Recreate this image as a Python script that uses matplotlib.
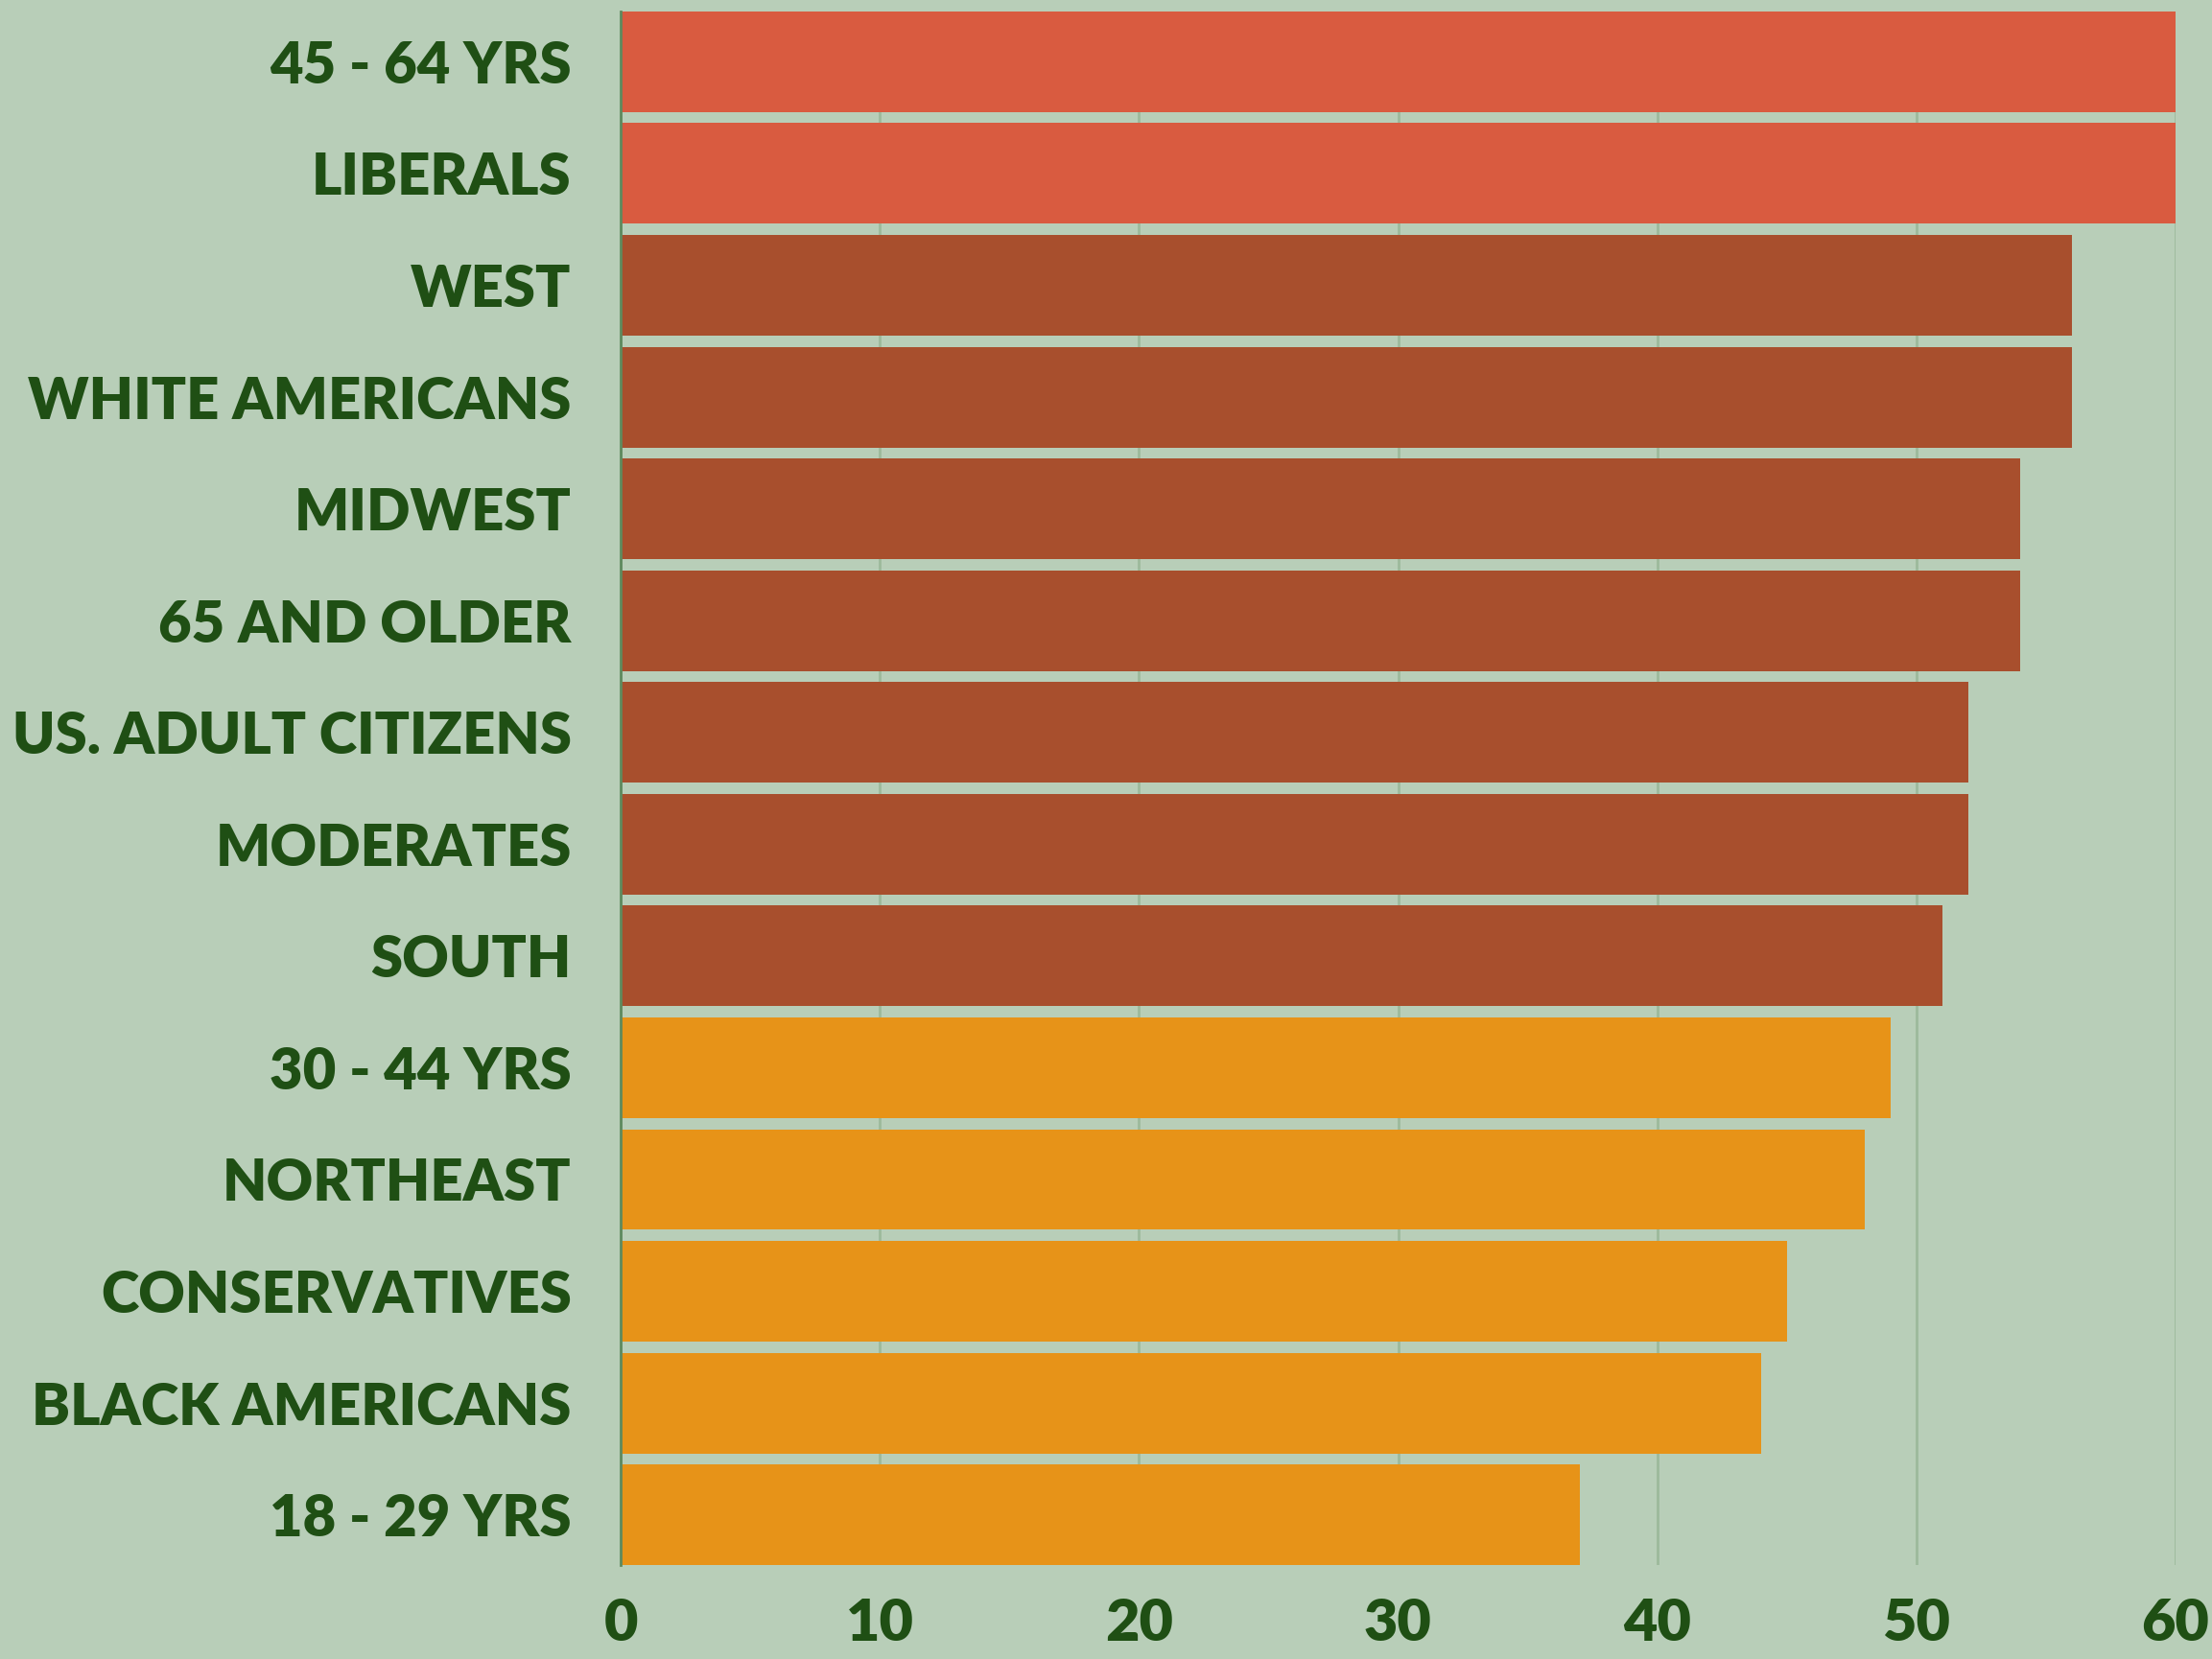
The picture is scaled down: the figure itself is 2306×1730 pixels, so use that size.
import matplotlib
matplotlib.use("Agg")
import matplotlib.pyplot as plt
import numpy as np

# dữ liệu
groups = ["45 - 64 YRS", "LIBERALS", "WEST", "WHITE AMERICANS", "MIDWEST",
          "65 AND OLDER", "US. ADULT CITIZENS", "MODERATES", "SOUTH",
          "30 - 44 YRS", "NORTHEAST", "CONSERVATIVES", "BLACK AMERICANS",
          "18 - 29 YRS"]
values = [60, 60, 56, 56, 54, 54, 52, 52, 51, 49, 48, 45, 44, 37]
tiers = ["top", "top", "mid", "mid", "mid", "mid", "mid", "mid", "mid",
         "low", "low", "low", "low", "low"]
x_ticks = [0, 10, 20, 30, 40, 50, 60]

tier_colors = {"top": "#D95B40", "mid": "#A84F2D", "low": "#E79318"}
bg = "#B8CEB8"
text_col = "#1F4F14"

plt.rcParams['font.family'] = ['Lato', 'DejaVu Sans']

fig = plt.figure(figsize=(23.06, 17.30), dpi=100, facecolor=bg)
ax = fig.add_axes([0.2806, 0.0566, 0.9835 - 0.2806, 0.9931 - 0.0566])
ax.set_facecolor(bg)

y = np.arange(len(groups))
colors = [tier_colors[t] for t in tiers]
ax.barh(y, values, height=0.9, color=colors, zorder=3)

ax.set_ylim(len(groups) - 1 + 0.45, -0.45)
ax.set_xlim(0, 60)
ax.set_yticks(y)
ax.set_yticklabels(groups)
ax.set_xticks(x_ticks)

ax.grid(axis="x", color="#9DB99B", linewidth=2, zorder=0)
ax.grid(axis="y", visible=False)
for s in ["top", "right", "bottom"]:
    ax.spines[s].set_visible(False)
ax.spines["left"].set_color("#5E8A5E")
ax.spines["left"].set_linewidth(2)
ax.spines["left"].set_zorder(4)

ax.tick_params(axis="y", length=0, pad=37, labelsize=43, labelcolor=text_col)
ax.tick_params(axis="x", length=0, pad=24, labelsize=44, labelcolor=text_col)
for lab in ax.get_yticklabels() + ax.get_xticklabels():
    lab.set_fontweight("heavy")

fig.savefig("out.png", dpi=100, facecolor=bg)
